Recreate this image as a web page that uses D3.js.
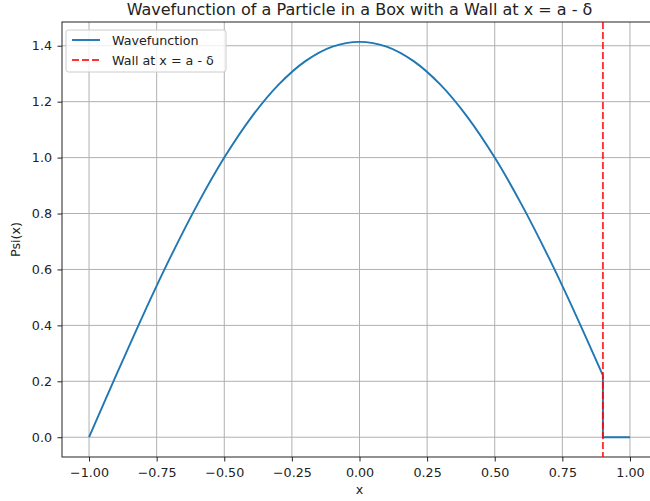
<!DOCTYPE html>
<html>
<head>
<meta charset="utf-8">
<script src="https://cdn.jsdelivr.net/npm/d3@7"></script>
<style>
  body { margin: 0; background: #fff; }
  svg { font-family: "DejaVu Sans", sans-serif; }
</style>
</head>
<body>
<svg id="chart" width="650" height="501"></svg>
<script>
// values
const xVals   = [-1.0, -0.9, -0.8, -0.7, -0.6, -0.5, -0.4, -0.3, -0.2, -0.1, 0.0,
                 0.1, 0.2, 0.3, 0.4, 0.5, 0.6, 0.7, 0.8, 0.9];
const psiVals = [0.0, 0.221, 0.437, 0.642, 0.831, 1.0, 1.144, 1.26, 1.345, 1.397, 1.414,
                 1.397, 1.345, 1.26, 1.144, 1.0, 0.831, 0.642, 0.437, 0.221];
const tailX   = [0.9, 0.9, 1.0];
const tailPsi = [0.221, 0.0, 0.0];
const wallX   = 0.9;
const xTicks  = [-1.0, -0.75, -0.5, -0.25, 0.0, 0.25, 0.5, 0.75, 1.0];
const yTicks  = [0.0, 0.2, 0.4, 0.6, 0.8, 1.0, 1.2, 1.4];

const svg = d3.select('#chart');
const L = 62, R = 657, T = 22, B = 457;

const x = d3.scaleLinear().domain([-1.1, 1.1]).range([L, R]);
const y = d3.scaleLinear().domain([-0.0707, 1.4849]).range([B, T]);

// grid
svg.append('g').selectAll('line').data(xTicks).join('line')
   .attr('x1', d => x(d)).attr('x2', d => x(d)).attr('y1', T).attr('y2', B)
   .attr('stroke', '#b0b0b0').attr('stroke-width', 1);
svg.append('g').selectAll('line').data(yTicks).join('line')
   .attr('x1', L).attr('x2', R).attr('y1', d => y(d)).attr('y2', d => y(d))
   .attr('stroke', '#b0b0b0').attr('stroke-width', 1);

// axes
const xAxis = svg.append('g').attr('transform', `translate(0,${B})`)
   .call(d3.axisBottom(x).tickValues(xTicks).tickFormat(d3.format('.2f')).tickSize(4.5).tickPadding(6.5));
const yAxis = svg.append('g').attr('transform', `translate(${L},0)`)
   .call(d3.axisLeft(y).tickValues(yTicks).tickFormat(d3.format('.1f')).tickSize(4.5).tickPadding(5.5));
[xAxis, yAxis].forEach(a => {
  a.select('.domain').remove();
  a.selectAll('text').attr('font-size', 12.7).attr('fill', '#222')
   .attr('font-family', '"DejaVu Sans", sans-serif');
  a.selectAll('line').attr('stroke', '#222').attr('stroke-width', 1);
});

// frame
svg.append('rect').attr('x', L).attr('y', T).attr('width', R - L).attr('height', B - T)
   .attr('fill', 'none').attr('stroke', '#222').attr('stroke-width', 1);

// curves
const line = d3.line().x(d => x(d[0])).y(d => y(d[1]));
svg.append('path')
   .attr('d', line.curve(d3.curveCatmullRom)(d3.zip(xVals, psiVals)))
   .attr('fill', 'none').attr('stroke', '#1f77b4').attr('stroke-width', 1.9);
svg.append('path')
   .attr('d', d3.line().x(d => x(d[0])).y(d => y(d[1]))(d3.zip(tailX, tailPsi)))
   .attr('fill', 'none').attr('stroke', '#1f77b4').attr('stroke-width', 1.9);

// wall
svg.append('line')
   .attr('x1', x(wallX)).attr('x2', x(wallX)).attr('y1', T).attr('y2', B)
   .attr('stroke', 'red').attr('stroke-opacity', 0.8).attr('stroke-width', 1.9)
   .attr('stroke-dasharray', '7,3');

// title and labels
svg.append('text').attr('x', (L + R) / 2).attr('y', 14.5).attr('text-anchor', 'middle')
   .attr('font-size', 16).attr('fill', '#222')
   .text('Wavefunction of a Particle in a Box with a Wall at x = a - δ');
svg.append('text').attr('x', (L + R) / 2).attr('y', 494).attr('text-anchor', 'middle')
   .attr('font-size', 12.7).attr('fill', '#222').text('x');
svg.append('text').attr('transform', `translate(20,${(T + B) / 2}) rotate(-90)`)
   .attr('text-anchor', 'middle').attr('font-size', 12.7).attr('fill', '#222').text('Psi(x)');

// legend
const lg = svg.append('g').attr('transform', 'translate(66,30)');
lg.append('rect').attr('width', 160).attr('height', 42).attr('rx', 2.5)
  .attr('fill', '#fff').attr('fill-opacity', 0.8).attr('stroke', '#ccc').attr('stroke-width', 1);
const items = [
  { label: 'Wavefunction', color: '#1f77b4', dash: null, op: 1 },
  { label: 'Wall at x = a - δ', color: 'red', dash: '7,3', op: 0.8 }
];
items.forEach((it, i) => {
  const yy = 10 + i * 20;
  lg.append('line').attr('x1', 6).attr('x2', 34).attr('y1', yy).attr('y2', yy)
    .attr('stroke', it.color).attr('stroke-width', 1.9).attr('stroke-opacity', it.op)
    .attr('stroke-dasharray', it.dash);
  lg.append('text').attr('x', 46).attr('y', yy + 4.5).attr('font-size', 12.7)
    .attr('fill', '#222').text(it.label);
});
</script>
</body>
</html>
